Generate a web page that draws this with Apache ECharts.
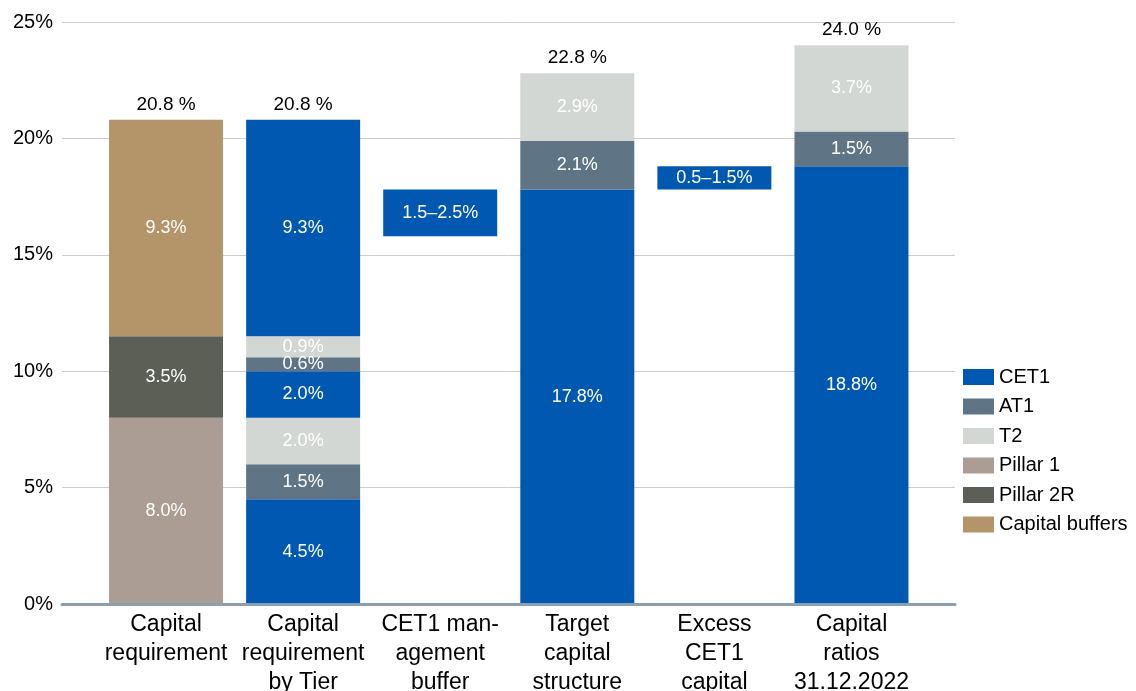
<!DOCTYPE html>
<html>
<head>
<meta charset="utf-8">
<script src="https://cdn.jsdelivr.net/npm/echarts@6/dist/echarts.min.js"></script>
<style>
  html, body { margin: 0; padding: 0; background: #fff; }
  #chart { width: 1136px; height: 691px; }
</style>
</head>
<body>
<div id="chart"></div>
<script>
// categories along the x axis
var categories = [
  "Capital\nrequirement",
  "Capital\nrequirement\nby Tier",
  "CET1 man-\nagement\nbuffer",
  "Target\ncapital\nstructure",
  "Excess\nCET1\ncapital",
  "Capital\nratios\n31.12.2022"
];
var yTicks = [0, 5, 10, 15, 20, 25];

// capital requirement components
var pillar1 = [8.0, "-", "-", "-", "-", "-"];
var pillar2R = [3.5, "-", "-", "-", "-", "-"];
var capitalBuffers = [9.3, "-", "-", "-", "-", "-"];

// tier layers (bottom to top)
var cet1Low = ["-", 4.5, "-", 17.8, "-", 18.8];
var at1Low = ["-", 1.5, "-", 2.1, "-", 1.5];
var t2Low = ["-", 2.0, "-", 2.9, "-", 3.7];
var cet1Mid = ["-", 2.0, "-", "-", "-", "-"];
var at1Mid = ["-", 0.6, "-", "-", "-", "-"];
var t2Mid = ["-", 0.9, "-", "-", "-", "-"];
var cet1Top = ["-", 9.3, "-", "-", "-", "-"];

// floating ranges (start, height, label)
var rangeStart = ["-", "-", 15.8, "-", 17.8, "-"];
var rangeSize = ["-", "-", 2.0, "-", 1.0, "-"];
var rangeLabels = ["", "", "1.5–2.5%", "", "0.5–1.5%", ""];

var totals = [20.8, 20.8, null, 22.8, null, 24.0];

var colors = {
  CET1: "#0058b0",
  AT1: "#5f7586",
  T2: "#d3d7d4",
  "Pillar 1": "#ab9d94",
  "Pillar 2R": "#5c5f56",
  "Capital buffers": "#b4956a"
};

var font = "Liberation Sans, Arial, sans-serif";

function layer(name, data) {
  return {
    name: name,
    type: "bar",
    stack: "s",
    xAxisIndex: 1,
    yAxisIndex: 1,
    barWidth: 114,
    data: data,
    itemStyle: { color: colors[name] },
    label: {
      show: true,
      position: "inside",
      color: "#fff",
      fontSize: 18,
      fontFamily: font,
      formatter: function (p) { return p.value.toFixed(1) + "%"; }
    }
  };
}

var chart = echarts.init(document.getElementById("chart"));
chart.setOption({
  animation: false,
  legend: {
    orient: "vertical",
    left: 958,
    top: 362,
    itemWidth: 31,
    itemHeight: 16,
    itemGap: 9.5,
    icon: "rect",
    textStyle: { fontSize: 20, lineHeight: 16, fontFamily: font, color: "#000" },
    data: ["CET1", "AT1", "T2", "Pillar 1", "Pillar 2R", "Capital buffers"]
  },
  grid: [
    { left: 62, right: 181, top: 22, bottom: 87, outerBoundsMode: "none" },
    { left: 97.5, right: 216, top: 22, bottom: 87, outerBoundsMode: "none" }
  ],
  xAxis: [
    {
      type: "value",
      gridIndex: 0,
      min: 0,
      max: 1,
      z: 10,
      axisLine: { show: true, lineStyle: { color: "#8aa0b1", width: 3 } },
      axisTick: { show: false },
      axisLabel: { show: false },
      splitLine: { show: false }
    },
    {
      type: "category",
      gridIndex: 1,
      data: categories,
      axisLine: { show: false },
      axisTick: { show: false },
      axisLabel: {
        interval: 0,
        margin: 6,
        fontSize: 23,
        lineHeight: 29,
        color: "#000",
        fontFamily: font
      }
    }
  ],
  yAxis: [
    {
      type: "value",
      gridIndex: 0,
      min: yTicks[0],
      max: yTicks[yTicks.length - 1],
      interval: 5,
      axisLine: { show: false },
      axisTick: { show: false },
      axisLabel: {
        formatter: "{value}%",
        fontSize: 20,
        margin: 9,
        color: "#000",
        fontFamily: font
      },
      splitLine: { lineStyle: { color: "#c9ced3", width: 1 } }
    },
    {
      type: "value",
      gridIndex: 1,
      min: yTicks[0],
      max: yTicks[yTicks.length - 1],
      show: false
    }
  ],
  series: [
    layer("Pillar 1", pillar1),
    layer("Pillar 2R", pillar2R),
    layer("Capital buffers", capitalBuffers),
    layer("CET1", cet1Low),
    layer("AT1", at1Low),
    layer("T2", t2Low),
    layer("CET1", cet1Mid),
    layer("AT1", at1Mid),
    layer("T2", t2Mid),
    layer("CET1", cet1Top),
    {
      name: "base",
      type: "bar",
      stack: "s",
      xAxisIndex: 1,
      yAxisIndex: 1,
      barWidth: 114,
      data: rangeStart,
      itemStyle: { color: "transparent" },
      silent: true
    },
    {
      name: "range",
      type: "bar",
      stack: "s",
      xAxisIndex: 1,
      yAxisIndex: 1,
      barWidth: 114,
      data: rangeSize,
      itemStyle: { color: colors.CET1 },
      label: {
        show: true,
        position: "inside",
        color: "#fff",
        fontSize: 18,
        fontFamily: font,
        formatter: function (p) { return rangeLabels[p.dataIndex]; }
      }
    },
    {
      name: "total",
      type: "bar",
      stack: "s",
      xAxisIndex: 1,
      yAxisIndex: 1,
      barWidth: 114,
      data: totals.map(function (t) { return t == null ? "-" : 0; }),
      itemStyle: { color: "transparent" },
      label: {
        show: true,
        position: "top",
        distance: 6,
        color: "#000",
        fontSize: 19,
        fontFamily: font,
        formatter: function (p) { return totals[p.dataIndex].toFixed(1) + " %"; }
      }
    }
  ]
});
</script>
</body>
</html>
